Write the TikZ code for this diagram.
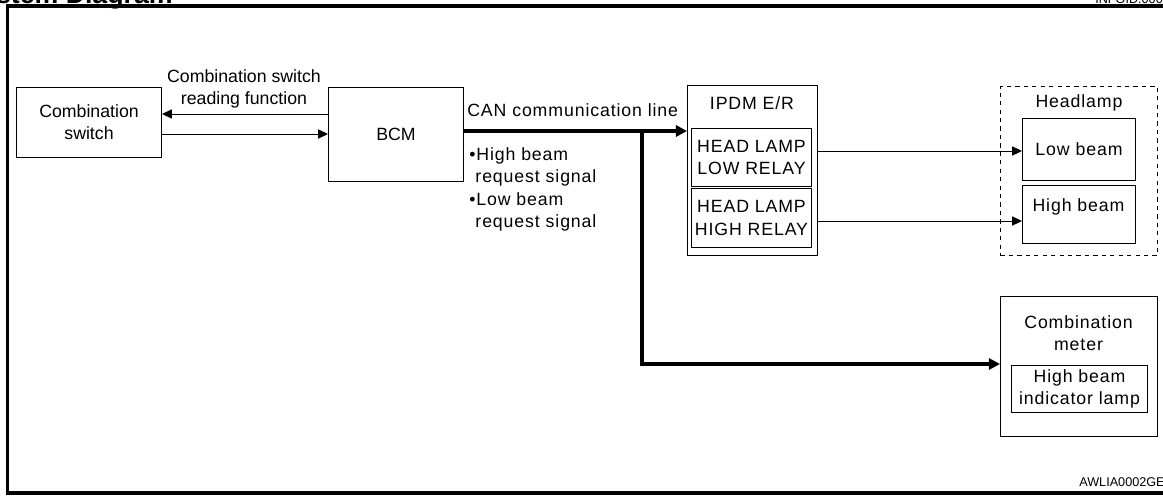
\documentclass[tikz,border=0pt]{standalone}
\usepackage{fontspec}
\setmainfont{Liberation Sans}
\newfontfamily\widesf[LetterSpace=5]{Liberation Sans}
\newcommand\wfont{\fontsize{12.6}{16}\widesf}
\usetikzlibrary{arrows.meta}

\begin{document}
\begin{tikzpicture}[x=0.025cm,y=-0.025cm,font=\fontsize{12.6}{15.5}\selectfont,>={Triangle[length=7pt,width=6.5pt]}]
\tikzset{
  unit/.style={draw,line width=.7pt,inner sep=0pt,anchor=north west,align=center},
  lbl/.style={inner sep=0pt,align=center},
  sig/.style={->,line width=.7pt},
  can/.style={-{Triangle[length=8pt,width=8pt]},line width=2.4pt}
}
\useasboundingbox (0,0) rectangle (1163,495);
\clip (0,0) rectangle (1163,495);

% frame and page marks
\draw[line width=2.2pt] (1175,6) -- (7.5,6) -- (7.5,493) -- (1175,493);
\node[inner sep=0pt,anchor=base east,font=\fontsize{19}{19}\selectfont\bfseries] (title) at (173,3) {System Diagram};
\node[inner sep=0pt,anchor=base west,font=\fontsize{9}{9}\selectfont] (infoid) at (1095,3) {INFOID:0000000001};
\node[inner sep=0pt,anchor=base west,font=\fontsize{9}{9}\selectfont] (code) at (1079,486) {AWLIA0002GE};

% units
\node[unit,minimum width=3.625cm,minimum height=1.75cm] (cswitch) at (16,87) {Combination\\switch};
\node[unit,minimum width=3.375cm,minimum height=2.35cm] (bcm) at (328,87) {BCM};

\node[unit,minimum width=3.25cm,minimum height=4.25cm] (ipdm) at (687,85) {};
\node[lbl,font=\wfont] (ipdmlbl) at (752,103) {IPDM E/R};
\node[unit,font=\wfont,minimum width=3.0cm,minimum height=1.45cm] (lowrelay) at (691,128) {HEAD LAMP\\LOW RELAY};
\node[unit,font=\wfont,minimum width=3.0cm,minimum height=1.475cm] (highrelay) at (691,188) {HEAD LAMP\\HIGH RELAY};

\node[unit,dashed,minimum width=3.925cm,minimum height=4.225cm] (headlamp) at (1000,86) {};
\node[lbl,font=\wfont] (headlbl) at (1079,103) {Headlamp};
\node[unit,font=\wfont,minimum width=2.825cm,minimum height=1.55cm] (lowbeam) at (1022,118) {Low beam};
\node[unit,minimum width=2.825cm,minimum height=1.45cm] (highbeam) at (1022,185) {};
\node[lbl,font=\wfont] (highlbl) at (1078.5,207) {High beam};

\node[unit,minimum width=3.925cm,minimum height=3.5cm] (meter) at (1000,296) {};
\node[lbl,font=\wfont] (meterlbl) at (1078.5,333) {Combination\\meter};
\node[unit,font=\wfont,minimum width=3.4cm,minimum height=1.175cm] (lamp) at (1011,365) {High beam\\indicator lamp};

% signals
\draw[sig] (bcm.west|-0,114) -- (cswitch.east|-0,114);
\draw[sig] (cswitch.east|-0,134) -- (bcm.west|-0,134);
\node[lbl] (readlbl) at (244,89) {Combination switch\\reading function};

\coordinate (split) at (642,131);
\draw[can] (bcm.east|-split) -- (ipdm.west|-split);
\draw[can] (split) |- (meter.west|-0,364);
\node[inner sep=0pt,anchor=base west,font=\wfont] (canlbl) at (467,116.5) {CAN communication line};
\node[inner sep=0pt,anchor=north west,align=left,font=\wfont] (reqlbl) at (469,147)
  {•High beam\\\phantom{•}request signal\\•Low beam\\\phantom{•}request signal};

\draw[sig] (ipdm.east|-0,151) -- (lowbeam.west|-0,151);
\draw[sig] (ipdm.east|-0,221) -- (highbeam.west|-0,221);
\end{tikzpicture}
\end{document}
